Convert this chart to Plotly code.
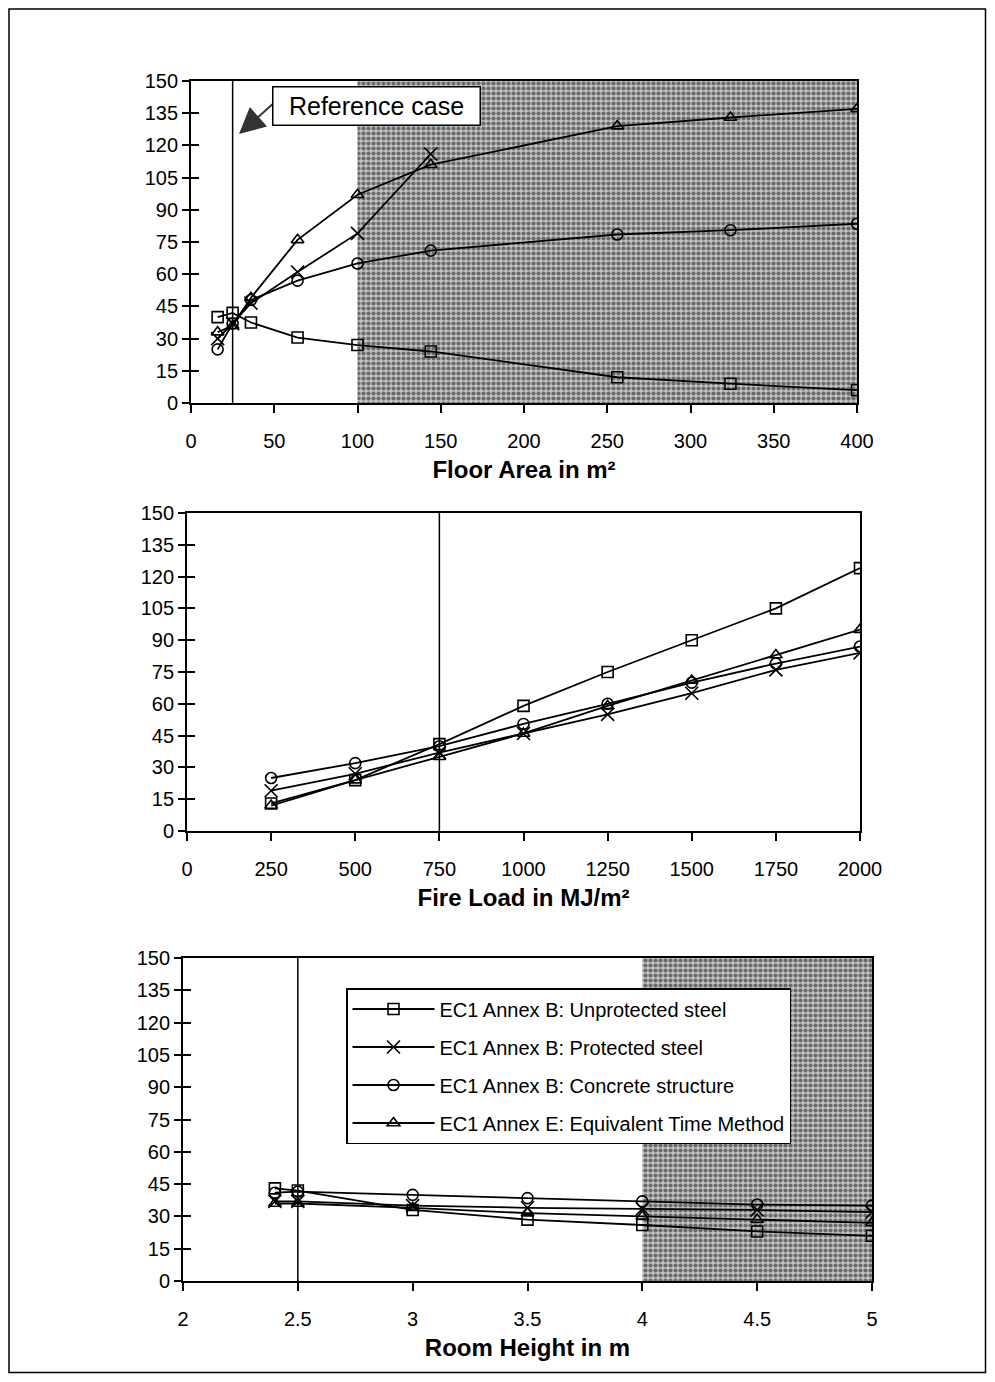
import plotly.graph_objects as go

# ---------------- data ----------------
series_names = [
    "EC1 Annex B: Unprotected steel",
    "EC1 Annex B: Protected steel",
    "EC1 Annex B: Concrete structure",
    "EC1 Annex E: Equivalent Time Method",
]

floor_area = [16, 25, 36, 64, 100, 144, 256, 324, 400]
area_unprot = [40, 42, 37.5, 30.5, 27, 24, 12, 9, 6]
area_prot_x = [16, 25, 36, 64, 100, 144]
area_prot = [30, 37, 46.5, 61, 79, 116]
area_conc = [25, 37, 48, 57, 65, 71, 78.5, 80.5, 83.5]
area_equiv = [33, 36, 49, 76, 97, 111, 129, 133, 137]

fire_load = [250, 500, 750, 1000, 1250, 1500, 1750, 2000]
fl_unprot = [13, 24, 41, 59, 75, 90, 105, 124]
fl_prot = [19, 27, 37, 46, 55, 65, 76, 84]
fl_conc = [25, 32, 40, 50.5, 60, 70, 79, 87]
fl_equiv = [12, 24, 35, 46, 59, 71, 83, 95]

room_height = [2.4, 2.5, 3, 3.5, 4, 4.5, 5]
h_unprot = [43, 42, 33, 28.5, 26, 23, 21]
h_prot = [37, 37, 35, 34, 33.5, 33, 32]
h_conc = [41, 41.5, 40, 38.5, 37, 35.5, 35]
h_equiv = [36, 36, 34, 31.5, 30, 28.5, 27]

y_ticks = [0, 15, 30, 45, 60, 75, 90, 105, 120, 135, 150]
area_ticks = [0, 50, 100, 150, 200, 250, 300, 350, 400]
fl_ticks = [0, 250, 500, 750, 1000, 1250, 1500, 1750, 2000]
h_ticks = [2, 2.5, 3, 3.5, 4, 4.5, 5]
h_ticklabels = ["2", "2.5", "3", "3.5", "4", "4.5", "5"]

ref_area = 25
ref_fire_load = 750
ref_height = 2.5
shade_area = [100, 400]
shade_height = [4, 5]

# ---------------- styling ----------------
OFF = 8                      # page body margin of the html page
W, H = 995 - 2 * OFF, 1382 - 2 * OFF   # keep the page free of scrollbars
FONT = "Liberation Sans, Arial, sans-serif"
symbols = ["square-open", "x-thin", "circle-open", "triangle-up-open"]


def fx(px):
    return (px - OFF) / W


def fy(py):
    return 1 - (py - OFF) / H


panels = [
    dict(x=[fx(191), fx(857)], y=[fy(403), fy(81)]),
    dict(x=[fx(187), fx(860)], y=[fy(831), fy(513)]),
    dict(x=[fx(183), fx(872)], y=[fy(1281), fy(958)]),
]

fig = go.Figure()


def shade(xr, xa, ya):
    fig.add_trace(go.Scatter(
        x=[xr[0], xr[1], xr[1], xr[0], xr[0]], y=[0, 0, 150, 150, 0],
        mode="lines", line=dict(width=0), fill="toself",
        fillcolor="white",
        fillpattern=dict(shape=".", fgcolor="#111111", bgcolor="#c2c2c2",
                         size=5, solidity=0.55),
        xaxis=xa, yaxis=ya, showlegend=False, hoverinfo="skip"))


shade(shade_area, "x", "y")
shade(shade_height, "x3", "y3")


def add_series(xs_list, ys_list, xa, ya, legend):
    for i, (xs, ys) in enumerate(zip(xs_list, ys_list)):
        fig.add_trace(go.Scatter(
            x=xs, y=ys, mode="lines+markers", name=series_names[i],
            line=dict(color="black", width=1.8),
            marker=dict(symbol=symbols[i], size=11 if i != 1 else 13,
                        color="black",
                        line=dict(color="black", width=1.6)),
            xaxis=xa, yaxis=ya, showlegend=legend,
            legendgroup="g%d" % i))


add_series([floor_area, area_prot_x, floor_area, floor_area],
           [area_unprot, area_prot, area_conc, area_equiv], "x", "y", False)
add_series([fire_load] * 4, [fl_unprot, fl_prot, fl_conc, fl_equiv],
           "x2", "y2", False)
add_series([room_height] * 4, [h_unprot, h_prot, h_conc, h_equiv],
           "x3", "y3", True)

# invisible traces so the inside-tick overlay axes get drawn
for k, xa in zip([4, 5, 6], ["x", "x2", "x3"]):
    fig.add_trace(go.Scatter(x=[None], y=[None], xaxis=xa, yaxis="y%d" % k,
                             showlegend=False, hoverinfo="skip"))

tickfont = dict(family=FONT, size=20, color="black")
titlefont = dict(family=FONT, size=24, color="black")

x_specs = [
    dict(range=[0, 400], tickvals=area_ticks, title="<b>Floor Area in m²</b>"),
    dict(range=[0, 2000], tickvals=fl_ticks, title="<b>Fire Load in MJ/m²</b>"),
    dict(range=[2, 5], tickvals=h_ticks, ticktext=h_ticklabels,
         title="<b>Room Height in m</b>"),
]

layout = dict(
    width=W, height=H,
    margin=dict(l=0, r=0, t=0, b=0, autoexpand=False),
    paper_bgcolor="white", plot_bgcolor="rgba(0,0,0,0)",
    font=dict(family=FONT, color="black"),
    showlegend=True,
    legend=dict(
        x=fx(346), y=fy(988), xanchor="left", yanchor="top",
        bgcolor="white", bordercolor="black", borderwidth=1.5,
        font=dict(family=FONT, size=20, color="black"),
        traceorder="grouped", tracegroupgap=9, itemwidth=82,
        entrywidth=410, entrywidthmode="pixels",
    ),
)

for i, (p, xs) in enumerate(zip(panels, x_specs)):
    n = "" if i == 0 else str(i + 1)
    xa = dict(
        domain=p["x"], anchor="y" + n, range=xs["range"],
        tickmode="array", tickvals=xs["tickvals"],
        showline=True, linecolor="black", linewidth=1.8, mirror=True,
        ticks="outside", ticklen=8, tickwidth=1.5, tickcolor="black",
        showgrid=False, zeroline=False, tickfont=tickfont,
        ticklabelstandoff=11,
        title=dict(text=xs["title"], font=titlefont, standoff=10),
    )
    if "ticktext" in xs:
        xa["ticktext"] = xs["ticktext"]
    ya = dict(
        domain=p["y"], anchor="x" + n, range=[0, 150],
        tickmode="array", tickvals=y_ticks,
        showline=True, linecolor="black", linewidth=1.8, mirror=True,
        ticks="outside", ticklen=7, tickwidth=1.5, tickcolor="black",
        showgrid=False, zeroline=False, tickfont=tickfont,
        ticklabelstandoff=0,
    )
    layout["xaxis" + n] = xa
    layout["yaxis" + n] = ya
    layout["yaxis%d" % (i + 4)] = dict(
        overlaying="y" + n, anchor="x" + n, range=[0, 150],
        tickmode="array", tickvals=y_ticks, ticks="inside", ticklen=8,
        tickwidth=1.5, tickcolor="black", showticklabels=False,
        showline=False, showgrid=False, zeroline=False, side="left")

fig.update_layout(**layout)

# reference vertical lines
for xv, xa, ya in [(ref_area, "x", "y"), (ref_fire_load, "x2", "y2"),
                   (ref_height, "x3", "y3")]:
    fig.add_shape(type="line", xref=xa, yref=ya + " domain", x0=xv, x1=xv,
                  y0=0, y1=1, line=dict(color="black", width=1.5))

# outer frame
fig.add_shape(type="rect", xref="paper", yref="paper",
              x0=1 / W, x1=1 - 1.5 / W, y0=1.5 / H, y1=1 - 1 / H,
              line=dict(color="black", width=1.5))


# "Reference case" label with arrow (screen px -> data on the top panel)
def area_x(px):
    return (px - 191) / (666 / 400)


def area_y(py):
    return (403 - py) / (322 / 150)


fig.add_annotation(x=area_x(239), y=area_y(134), xref="x", yref="y", text="",
                   showarrow=True, ax=area_x(274), ay=area_y(103),
                   axref="x", ayref="y",
                   arrowhead=2, arrowsize=2.6, arrowwidth=2,
                   arrowcolor="#333333")
fig.add_annotation(x=area_x(376), y=area_y(106),
                   xref="x", yref="y", text="Reference case",
                   showarrow=False, font=dict(family=FONT, size=25, color="black"),
                   width=200, height=31,
                   bgcolor="white", bordercolor="black", borderwidth=1.5,
                   borderpad=3)

fig.write_html("out.html")
